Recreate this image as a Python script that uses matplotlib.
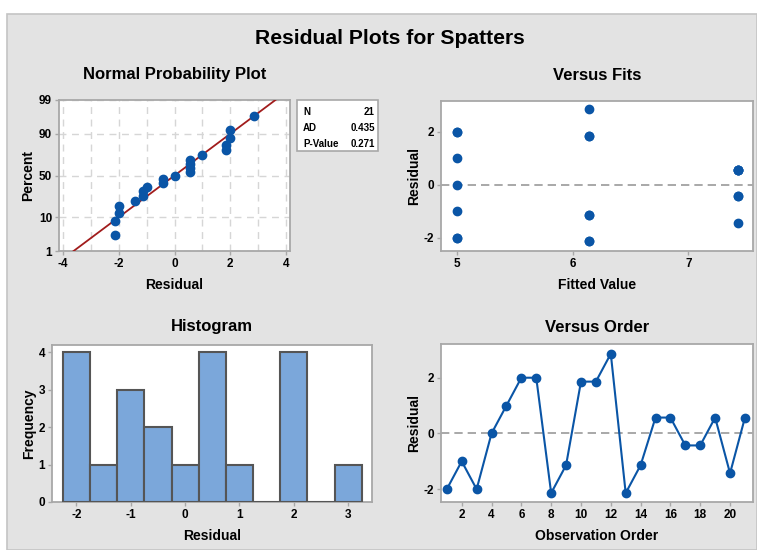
import numpy as np
import matplotlib
matplotlib.use("Agg")
import matplotlib.pyplot as plt
from matplotlib.patches import Rectangle
from statistics import NormalDist

plt.rcParams['font.family'] = ['Liberation Sans', 'DejaVu Sans']
plt.rcParams['font.weight'] = 'bold'
plt.rcParams['axes.unicode_minus'] = False

# Residuals in observation order and the matching fitted values
observation = list(range(1, 22))
residuals = [-2.00, -1.00, -2.00, 0.00, 1.00, 2.00, 2.00,
             -2.14, -1.14, 1.86, 1.86, 2.86, -2.14, -1.14,
             0.57, 0.57, -0.43, -0.43, 0.57, -1.43, 0.57]
fitted = [5.00] * 7 + [6.14] * 7 + [7.43] * 7

stats_labels = ["N", "AD", "P-Value"]
stats_values = ["21", "0.435", "0.271"]

pct_ticks = [1, 10, 50, 90, 99]
hist_edges = [-2.25, -1.75, -1.25, -0.75, -0.25, 0.25, 0.75, 1.25, 1.75, 2.25, 2.75, 3.25]

W, H = 757, 550
DOT = '#0a55a6'
BAR = '#7ba7da'
BAR_EDGE = '#555555'
FITLINE = '#a11c1c'
SPINE = '#a8a8a8'
GRID = '#d6d6d6'

fig = plt.figure(figsize=(W / 100, H / 100), dpi=100)
fig.patch.set_facecolor('white')
fig.patches.append(Rectangle((7 / W, 0), 1 - 7 / W, 1 - 14 / H, transform=fig.transFigure,
                             facecolor='#e3e3e3', edgecolor='#c4c4c4', linewidth=1.2, zorder=-10))


def box(l, r, t, b):
    return [l / W, 1 - b / H, (r - l) / W, (b - t) / H]


def style(ax):
    ax.set_facecolor('white')
    for s in ax.spines.values():
        s.set_color(SPINE)
        s.set_linewidth(1.3)
    ax.tick_params(direction='out', length=3, width=1, color=SPINE, labelsize=8.5, pad=2)
    for lab in ax.get_xticklabels() + ax.get_yticklabels():
        lab.set_fontweight('bold')


nd = NormalDist()


def pct_forward(p):
    p = np.clip(np.asarray(p, dtype=float) / 100.0, 1e-9, 1 - 1e-9)
    return np.vectorize(nd.inv_cdf, otypes=[float])(p)


def pct_inverse(z):
    return np.vectorize(nd.cdf, otypes=[float])(np.asarray(z, dtype=float)) * 100.0


# Normal probability plot
ax1 = fig.add_axes(box(59, 290, 100, 251))
ax1.set_yscale('function', functions=(pct_forward, pct_inverse))
res_sorted = np.sort(residuals)
n = len(res_sorted)
ranks = np.arange(1, n + 1)
median_rank = (ranks - 0.3) / (n + 0.4) * 100
sigma = np.std(residuals, ddof=1)
mu = np.mean(residuals)
xl = np.linspace(-5, 5, 200)
ax1.plot(xl, pct_inverse((xl - mu) / sigma), color=FITLINE, lw=1.3, zorder=3)
ax1.plot(res_sorted, median_rank, 'o', color=DOT, ms=6, zorder=4, clip_on=False)
ax1.set_xlim(-4.15, 4.15)
ax1.set_ylim(1, 99)
ax1.set_xticks([-4, -2, 0, 2, 4])
ax1.set_xticks(np.arange(-4, 5, 1), minor=True)
ax1.set_yticks(pct_ticks)
ax1.set_yticklabels([str(t) for t in pct_ticks])
ax1.tick_params(which='minor', length=0)
ax1.grid(True, which='both', axis='x', color=GRID, ls=(0, (5, 4)), lw=1)
ax1.grid(True, which='major', axis='y', color=GRID, ls=(0, (5, 4)), lw=1)
ax1.set_axisbelow(True)
style(ax1)
ax1.set_xlabel('Residual', fontsize=10, fontweight='bold', labelpad=6)
ax1.set_ylabel('Percent', fontsize=10, fontweight='bold', labelpad=3)

# Summary statistics box
fig.patches.append(Rectangle((297 / W, 1 - 151 / H), 81 / W, 51 / H, transform=fig.transFigure,
                             facecolor='white', edgecolor=SPINE, linewidth=1.2, zorder=5))
for i, (lab, val) in enumerate(zip(stats_labels, stats_values)):
    yy = 1 - (112 + i * 16) / H
    fig.text(303 / W, yy, lab, fontsize=7, fontweight='bold', va='center', ha='left', zorder=6)
    fig.text(375 / W, yy, val, fontsize=7, fontweight='bold', va='center', ha='right', zorder=6)

# Versus fits
ax2 = fig.add_axes(box(441, 753, 101, 251))
ax2.axhline(0, color='#9a9a9a', ls=(0, (5, 3)), lw=1.2, zorder=1)
ax2.plot(fitted, residuals, 'o', color=DOT, ms=6, zorder=3)
ax2.set_xlim(4.86, 7.56)
ax2.set_ylim(-2.5, 3.17)
ax2.set_xticks([5, 6, 7])
ax2.set_yticks([-2, 0, 2])
style(ax2)
ax2.set_xlabel('Fitted Value', fontsize=10, fontweight='bold', labelpad=6)
ax2.set_ylabel('Residual', fontsize=10, fontweight='bold', labelpad=2)

# Histogram
ax3 = fig.add_axes(box(52, 372, 345, 502))
ax3.hist(residuals, bins=hist_edges, color=BAR, edgecolor=BAR_EDGE, linewidth=1.5, zorder=3)
ax3.set_xlim(-2.45, 3.44)
ax3.set_ylim(0, 4.2)
ax3.set_xticks([-2, -1, 0, 1, 2, 3])
ax3.set_yticks([0, 1, 2, 3, 4])
style(ax3)
ax3.set_xlabel('Residual', fontsize=10, fontweight='bold', labelpad=6)
ax3.set_ylabel('Frequency', fontsize=10, fontweight='bold', labelpad=2)

# Versus order
ax4 = fig.add_axes(box(441, 753, 344, 502))
ax4.axhline(0, color='#9a9a9a', ls=(0, (5, 3)), lw=1.2, zorder=1)
ax4.plot(observation, residuals, '-o', color=DOT, ms=6, lw=1.5, zorder=3)
ax4.set_xlim(0.61, 21.54)
ax4.set_ylim(-2.46, 3.21)
ax4.set_xticks(range(2, 21, 2))
ax4.set_yticks([-2, 0, 2])
style(ax4)
ax4.set_xlabel('Observation Order', fontsize=10, fontweight='bold', labelpad=6)
ax4.set_ylabel('Residual', fontsize=10, fontweight='bold', labelpad=2)

# Titles
fig.text(390 / W, 1 - 38 / H, 'Residual Plots for Spatters', fontsize=15.2, fontweight='bold',
         ha='center', va='center')
for x, y, t in [(175, 75, 'Normal Probability Plot'), (597, 75, 'Versus Fits'),
                (212, 327, 'Histogram'), (597, 327, 'Versus Order')]:
    fig.text(x / W, 1 - y / H, t, fontsize=12, fontweight='bold', ha='center', va='center')

fig.savefig('out.png', dpi=100)
